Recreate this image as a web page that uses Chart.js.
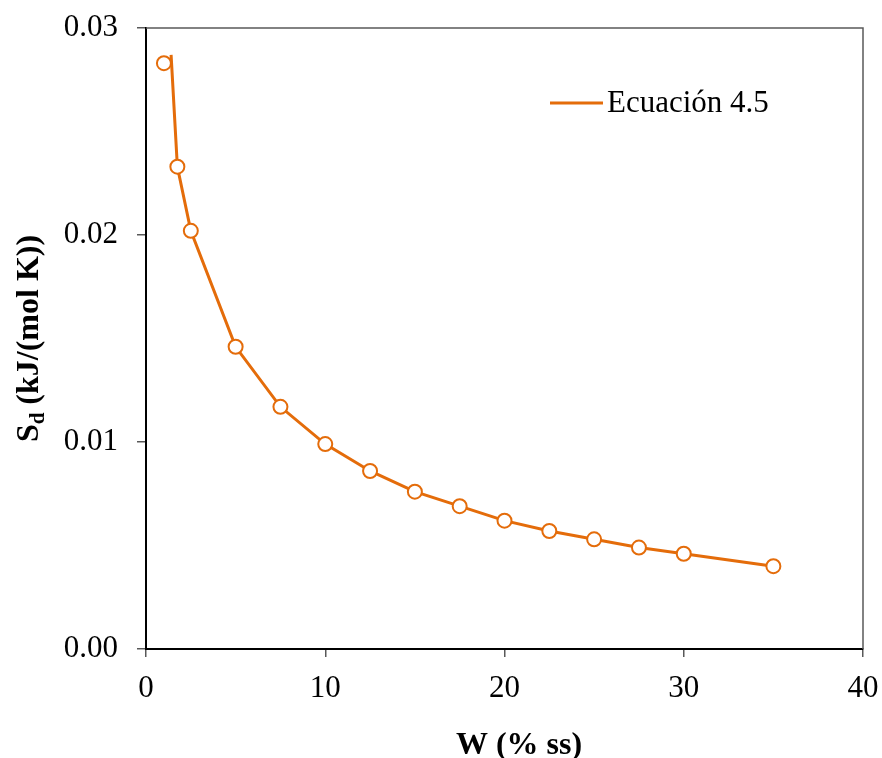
<!DOCTYPE html>
<html>
<head>
<meta charset="utf-8">
<script src="https://cdn.jsdelivr.net/npm/chart.js@4.4.1/dist/chart.umd.min.js"></script>
<style>
  html, body { margin: 0; padding: 0; background: #fff; }
  #wrap { width: 882px; height: 758px; }
</style>
</head>
<body>
<div id="wrap"><canvas id="chart"></canvas></div>
<script>
// data
const wPoints = [1, 1.75, 2.5, 5, 7.5, 10, 12.5, 15, 17.5, 20, 22.5, 25, 27.5, 30, 35];
const sdPoints = [0.0283, 0.0233, 0.0202, 0.0146, 0.0117, 0.0099, 0.0086, 0.0076, 0.0069, 0.0062, 0.0057, 0.0053, 0.0049, 0.0046, 0.0040];

// Ecuación 4.5 curve
const wCurve = [1.4, 1.75, 2.5, 5, 7.5, 10, 12.5, 15, 17.5, 20, 22.5, 25, 27.5, 30, 35];
const sdCurve = [0.0287, 0.0233, 0.0202, 0.0146, 0.0117, 0.0099, 0.0086, 0.0076, 0.0069, 0.0062, 0.0057, 0.0053, 0.0049, 0.0046, 0.0040];

const xTicks = [0, 10, 20, 30, 40];
const yTicks = [0, 0.01, 0.02, 0.03];

const orange = "#E46C0A";
const serif = "'Liberation Serif', 'Times New Roman', serif";

const toXY = (xs, ys) => xs.map((x, i) => ({ x: x, y: ys[i] }));

// no extra room for overflowing tick labels, the layout padding handles it
const noPad = (scale) => {
  scale.paddingTop = 0;
  scale.paddingBottom = 0;
  scale.paddingLeft = 0;
  scale.paddingRight = 0;
};

// frame, axis titles and legend
const extras = {
  id: "extras",
  beforeDatasetsDraw(chart) {
    const { ctx, chartArea: a } = chart;
    ctx.save();
    // gray top/right border
    ctx.strokeStyle = "#595959";
    ctx.lineWidth = 1.5;
    ctx.beginPath();
    ctx.moveTo(a.left, a.top);
    ctx.lineTo(a.right, a.top);
    ctx.lineTo(a.right, a.bottom);
    ctx.stroke();
    ctx.restore();
  },
  afterDraw(chart) {
    const { ctx, chartArea: a } = chart;
    ctx.save();
    ctx.fillStyle = "#000";

    // x title
    ctx.font = "bold 32px " + serif;
    ctx.textAlign = "center";
    ctx.textBaseline = "alphabetic";
    ctx.fillText("W (% ss)", 519, 754);

    // y title with subscript
    ctx.translate(38, (a.top + a.bottom) / 2);
    ctx.rotate(-Math.PI / 2);
    const main = "S";
    const sub = "d";
    const rest = " (kJ/(mol K))";
    ctx.font = "bold 32px " + serif;
    const wMain = ctx.measureText(main).width;
    const wRest = ctx.measureText(rest).width;
    ctx.font = "bold 21px " + serif;
    const wSub = ctx.measureText(sub).width;
    let x = -(wMain + wSub + wRest) / 2;
    ctx.textAlign = "left";
    ctx.font = "bold 32px " + serif;
    ctx.fillText(main, x, 0);
    x += wMain;
    ctx.font = "bold 21px " + serif;
    ctx.fillText(sub, x, 6);
    x += wSub;
    ctx.font = "bold 32px " + serif;
    ctx.fillText(rest, x, 0);
    ctx.restore();

    // legend
    ctx.save();
    ctx.strokeStyle = orange;
    ctx.lineWidth = 3;
    ctx.beginPath();
    ctx.moveTo(550, 103);
    ctx.lineTo(603, 103);
    ctx.stroke();
    ctx.fillStyle = "#000";
    ctx.font = "31px " + serif;
    ctx.textAlign = "left";
    ctx.textBaseline = "middle";
    ctx.fillText("Ecuación 4.5", 607, 104);
    ctx.restore();
  }
};

const ctx = document.getElementById("chart").getContext("2d");
new Chart(ctx, {
  type: "scatter",
  data: {
    datasets: [
      {
        label: "Ecuación 4.5",
        data: toXY(wCurve, sdCurve),
        showLine: true,
        borderColor: orange,
        borderWidth: 3,
        pointRadius: 0,
        tension: 0,
        order: 2
      },
      {
        label: "Datos",
        data: toXY(wPoints, sdPoints),
        showLine: false,
        pointRadius: 7,
        pointBorderWidth: 2,
        pointBorderColor: orange,
        pointBackgroundColor: "#fff",
        order: 1
      }
    ]
  },
  options: {
    responsive: true,
    maintainAspectRatio: false,
    animation: false,
    layout: { padding: { top: 28, right: 19, left: 0, bottom: 0 } },
    plugins: {
      legend: { display: false },
      tooltip: { enabled: false }
    },
    scales: {
      x: {
        type: "linear",
        min: 0,
        max: 40,
        afterFit: (scale) => { scale.height = 109; noPad(scale); },
        afterBuildTicks: (scale) => { scale.ticks = xTicks.map((v) => ({ value: v })); },
        border: { color: "#000", width: 2 },
        grid: { drawOnChartArea: false, drawTicks: true, tickLength: 8, color: "#595959", lineWidth: 1.5 },
        ticks: {
          color: "#000",
          font: { family: serif, size: 31 },
          padding: 13,
          maxRotation: 0
        }
      },
      y: {
        type: "linear",
        min: 0,
        max: 0.03,
        afterFit: (scale) => { scale.width = 146; noPad(scale); },
        afterBuildTicks: (scale) => { scale.ticks = yTicks.map((v) => ({ value: v })); },
        border: { color: "#000", width: 2 },
        grid: { drawOnChartArea: false, drawTicks: true, tickLength: 9, color: "#595959", lineWidth: 1.5 },
        ticks: {
          color: "#000",
          font: { family: serif, size: 31 },
          padding: 19,
          callback: (v) => v.toFixed(2)
        }
      }
    }
  },
  plugins: [extras]
});
</script>
</body>
</html>
